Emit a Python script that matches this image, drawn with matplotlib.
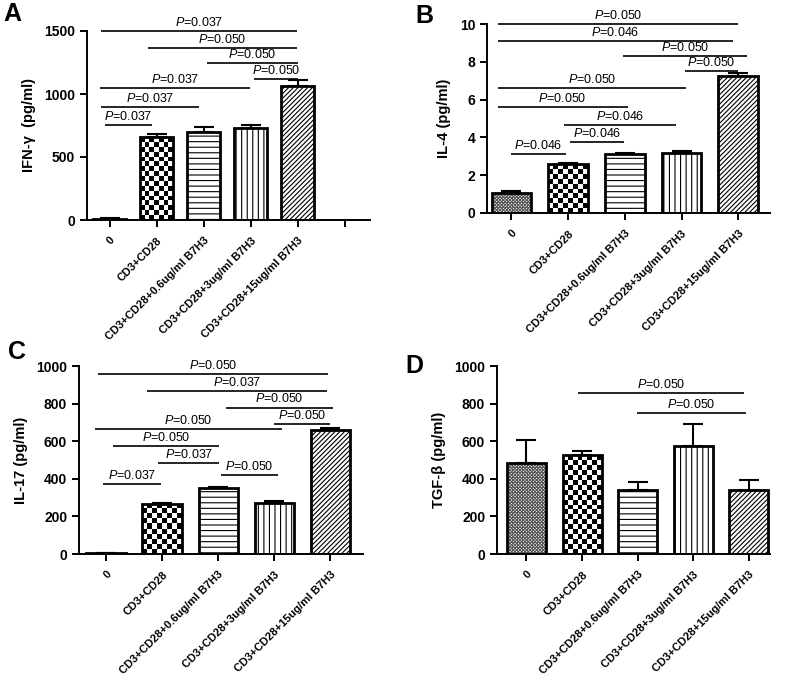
import numpy as np
import matplotlib
matplotlib.use('Agg')
import matplotlib.pyplot as plt
from matplotlib.colors import ListedColormap

plt.rcParams['font.family'] = ['Liberation Sans', 'DejaVu Sans']
plt.rcParams['mathtext.fontset'] = 'custom'
plt.rcParams['mathtext.it'] = 'Liberation Sans:italic'
plt.rcParams['mathtext.rm'] = 'Liberation Sans'
plt.rcParams['hatch.linewidth'] = 0.8

categories = ["0", "CD3+CD28", "CD3+CD28+0.6ug/ml B7H3",
              "CD3+CD28+3ug/ml B7H3", "CD3+CD28+15ug/ml B7H3"]

ifn_mean = [8, 655, 700, 733, 1063]
ifn_err = [4, 30, 40, 20, 45]
il4_mean = [1.05, 2.58, 3.13, 3.2, 7.23]
il4_err = [0.12, 0.04, 0.07, 0.1, 0.18]
il17_mean = [5, 268, 350, 273, 658]
il17_err = [2, 3, 6, 9, 11]
tgf_mean = [485, 524, 340, 575, 343]
tgf_err = [124, 25, 44, 119, 53]

# significance brackets: (x start, x end, y level, p-value)
ifn_sig = [(-0.18, 3.97, 1500, "0.037"), (0.82, 3.97, 1368, "0.050"),
           (2.06, 4.0, 1243, "0.050"), (3.06, 4.0, 1119, "0.050"),
           (-0.21, 2.98, 1050, "0.037"), (-0.18, 1.9, 899, "0.037"),
           (-0.1, 0.89, 754, "0.037")]
il4_sig = [(-0.24, 4.0, 10.0, "0.050"), (-0.24, 3.91, 9.12, "0.046"),
           (1.96, 4.16, 8.29, "0.050"), (3.06, 4.0, 7.53, "0.050"),
           (-0.24, 3.08, 6.61, "0.050"), (-0.24, 2.05, 5.61, "0.050"),
           (0.93, 2.9, 4.66, "0.046"), (1.03, 1.98, 3.74, "0.046"),
           (-0.01, 0.97, 3.12, "0.046")]
il17_sig = [(-0.15, 3.96, 959, "0.050"), (0.73, 3.93, 867, "0.037"),
            (2.14, 4.04, 779, "0.050"), (2.99, 4.0, 690, "0.050"),
            (-0.2, 3.14, 667, "0.050"), (0.13, 2.02, 572, "0.050"),
            (0.93, 2.02, 485, "0.037"), (2.05, 3.06, 421, "0.050"),
            (-0.06, 0.98, 370, "0.037")]
tgf_sig = [(0.93, 3.92, 858, "0.050"), (1.99, 3.94, 750, "0.050")]

W, H = 787, 679
fig = plt.figure(figsize=(W / 100, H / 100), dpi=100)


def add_ax(l, r, t, b):
    return fig.add_axes([l / W, 1 - b / H, (r - l) / W, (b - t) / H])


def checker(ax, bar, cell_px, c1, c2):
    x0, y0 = bar.get_x(), bar.get_y()
    w, h = bar.get_width(), bar.get_height()
    p0 = ax.transData.transform((x0, y0))
    p1 = ax.transData.transform((x0 + w, y0 + h))
    nx = max(1, int(round(abs(p1[0] - p0[0]) / cell_px)))
    ny = max(1, int(round(abs(p1[1] - p0[1]) / cell_px)))
    arr = np.add.outer(np.arange(ny), np.arange(nx)) % 2
    im = ax.imshow(arr, extent=(x0, x0 + w, y0, y0 + h),
                   cmap=ListedColormap([c1, c2]), interpolation='nearest',
                   aspect='auto', zorder=2.1, origin='lower')
    im.set_clip_path(bar)


def panel(ax, means, errs, sigs, ylim, yticks, ylabel, xlim, nticks, letter, lpos):
    x = np.arange(len(means))
    ax.set_xlim(*xlim)
    ax.set_ylim(*ylim)
    hatches = ['x' * 10, None, '---', '|||', '/' * 7]
    hcolors = ['#555555', 'black', 'black', 'black', 'black']
    bars = ax.bar(x, means, width=0.7, color='white', edgecolor=hcolors,
                  linewidth=0, zorder=2)
    for b, h in zip(bars, hatches):
        if h:
            b.set_hatch(h)
    ax.bar(x, means, width=0.7, fill=False, edgecolor='black',
           linewidth=2.0, zorder=3)
    checker(ax, bars[1], 5.0, 'black', 'white')
    ax.errorbar(x, means, yerr=[np.zeros(len(errs)), errs], fmt='none',
                ecolor='black', elinewidth=1.5, capsize=7, capthick=1.5,
                zorder=2.5)
    for x1, x2, yv, p in sigs:
        ax.plot([x1, x2], [yv, yv], color='black', lw=1.2, zorder=4,
                clip_on=False, solid_capstyle='butt')
        ax.annotate(r'$\it{P}$=' + p, xy=((x1 + x2) / 2, yv),
                    xytext=(0, 1.5), textcoords='offset points',
                    ha='center', va='bottom', fontsize=9,
                    annotation_clip=False)
    for s in ['top', 'right']:
        ax.spines[s].set_visible(False)
    for s in ['left', 'bottom']:
        ax.spines[s].set_linewidth(1.4)
    ax.set_yticks(yticks)
    ax.set_yticklabels([str(v) for v in yticks], fontsize=10, fontweight='bold')
    ax.set_xticks(np.arange(nticks))
    labels = categories + [''] * (nticks - len(categories))
    ax.set_xticklabels(labels, rotation=45, ha='right', va='top',
                       rotation_mode='anchor', fontsize=8, fontweight='bold')
    ax.tick_params(axis='both', direction='out', length=5, width=1.4)
    ax.tick_params(axis='x', pad=6)
    ax.set_ylabel(ylabel, fontsize=10.5, fontweight='bold', labelpad=6)
    fig.text(lpos[0] / W, 1 - lpos[1] / H, letter, fontsize=18,
             fontweight='bold', ha='left', va='top')


axA = add_ax(87, 370, 31, 220)
panel(axA, ifn_mean, ifn_err, ifn_sig, (0, 1500), [0, 500, 1000, 1500],
      'IFN-γ  (pg/ml)', (-0.48, 5.53), 6, 'A', (3, 2))

axB = add_ax(487, 770, 24, 213)
panel(axB, il4_mean, il4_err, il4_sig, (0, 10), [0, 2, 4, 6, 8, 10],
      'IL-4 (pg/ml)', (-0.43, 4.56), 5, 'B', (415, 4))

axC = add_ax(79, 363, 366, 554)
panel(axC, il17_mean, il17_err, il17_sig, (0, 1000),
      [0, 200, 400, 600, 800, 1000], 'IL-17 (pg/ml)', (-0.48, 4.58), 5,
      'C', (8, 340))

axD = add_ax(497, 770, 366, 554)
panel(axD, tgf_mean, tgf_err, tgf_sig, (0, 1000),
      [0, 200, 400, 600, 800, 1000], 'TGF-β (pg/ml)', (-0.53, 4.38), 5,
      'D', (405, 354))

fig.savefig('out.png', dpi=100)
